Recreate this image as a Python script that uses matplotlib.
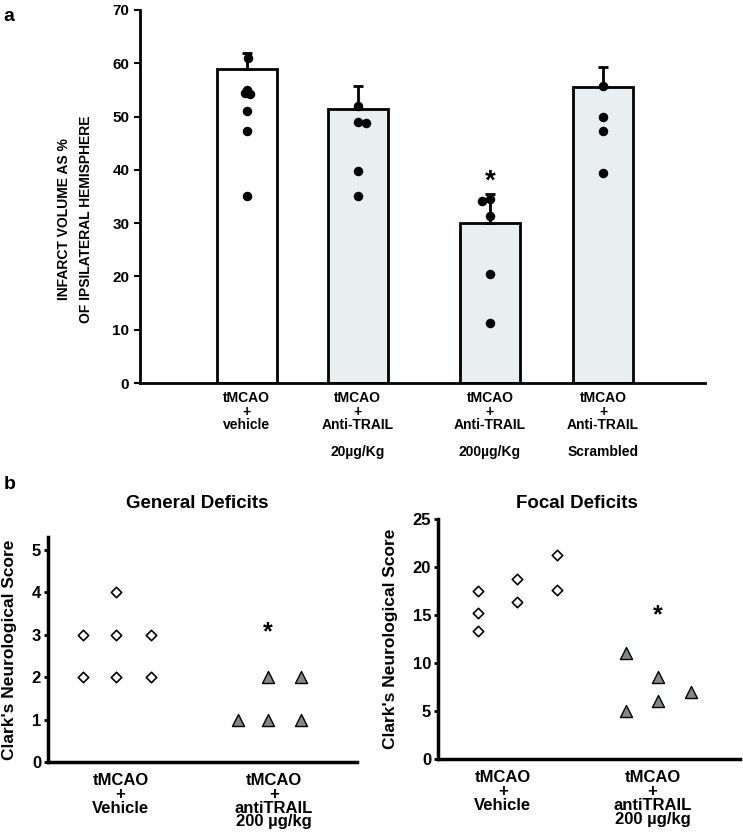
import matplotlib
matplotlib.use("Agg")
import matplotlib.pyplot as plt

plt.rcParams['font.family'] = ['Liberation Sans', 'DejaVu Sans']
plt.rcParams['font.weight'] = 'bold'
plt.rcParams['axes.labelweight'] = 'bold'
plt.rcParams['axes.titleweight'] = 'bold'

# panel a: infarct volume
bar_labels = ["tMCAO\n+\nvehicle",
              "tMCAO\n+\nAnti-TRAIL\n\n20\u00b5g/Kg",
              "tMCAO\n+\nAnti-TRAIL\n\n200\u00b5g/Kg",
              "tMCAO\n+\nAnti-TRAIL\n\nScrambled"]
bar_means = [59.0, 51.5, 30.1, 55.5]
bar_err = [3.0, 4.2, 5.4, 3.8]
bar_colors = ["white", "#e9eeee", "#e9eeee", "#e9eeee"]
# individual animals: (offset within bar, value)
dots = [
    [(0.02, 61.0), (-0.03, 54.5), (0.0, 55.0), (0.06, 54.3), (0.01, 51.0), (0.01, 47.3), (0.01, 35.0)],
    [(0.0, 52.0), (0.0, 49.0), (0.13, 48.8), (0.0, 39.7), (0.0, 35.0)],
    [(-0.14, 34.2), (0.0, 34.5), (0.0, 31.4), (0.0, 20.5), (0.0, 11.2)],
    [(0.0, 55.8), (0.0, 50.0), (0.0, 47.3), (0.0, 39.5)],
]

# panel b: Clark's scores, columns of points
gen_veh_x = [0.78, 0.78, 1.0, 1.0, 1.0, 1.23, 1.23]
gen_veh_y = [3, 2, 4, 3, 2, 3, 2]
gen_trail_x = [1.8, 2.0, 2.0, 2.22, 2.22]
gen_trail_y = [1, 2, 1, 2, 1]

foc_veh_x = [0.72, 0.72, 0.72, 1.0, 1.0, 1.28, 1.28]
foc_veh_y = [17.5, 15.2, 13.3, 18.7, 16.4, 21.2, 17.6]
foc_trail_x = [1.77, 1.77, 2.0, 2.0, 2.23]
foc_trail_y = [11.0, 5.0, 8.5, 6.0, 7.0]

b_labels = ["tMCAO\n+\nVehicle", "tMCAO\n+\nantiTRAIL\n200 \u00b5g/kg"]

fig = plt.figure(figsize=(7.43, 8.39), dpi=100)

# ---- panel a
ax = fig.add_axes([0.188, 0.5435, 0.761, 0.4446])
xs = [1.076, 1.882, 2.84, 3.66]
ax.bar(xs, bar_means, width=0.435, color=bar_colors, edgecolor="black", linewidth=2, zorder=2)
ax.errorbar(xs, bar_means, yerr=[[0] * 4, bar_err], fmt="none", ecolor="black",
            elinewidth=2, capsize=3.5, capthick=2, zorder=3)
for x, pts in zip(xs, dots):
    ax.scatter([x + o * 0.435 for o, v in pts], [v for o, v in pts], s=34, color="black",
               marker="o", zorder=4)
ax.text(xs[2], 37.8, "*", ha="center", va="center", fontsize=20)
ax.set_xlim(0.3, 4.4)
ax.set_ylim(0, 70)
ax.set_yticks(range(0, 71, 10))
ax.set_xticks(xs)
ax.set_xticklabels(bar_labels, fontsize=10, linespacing=0.95)
ax.tick_params(axis="x", length=0, pad=6)
ax.tick_params(axis="y", labelsize=11, width=1.5, length=4)
for s in ["top", "right"]:
    ax.spines[s].set_visible(False)
for s in ["left", "bottom"]:
    ax.spines[s].set_linewidth(2)
ax.set_ylabel("INFARCT VOLUME AS %\nOF IPSILATERAL HEMISPHERE", fontsize=10,
              linespacing=1.75)
ax.yaxis.set_label_coords(-0.082, 0.44)
fig.text(0.005, 0.99, "a", fontsize=14, va="top")
fig.text(0.005, 0.433, "b", fontsize=14, va="top")


def score_panel(rect, vx, vy, tx, ty, ylim, yticks, star_y, title, title_x, xlim, label_x, ylab_x):
    a = fig.add_axes(rect)
    a.scatter(vx, vy, marker="D", s=28, facecolor="white", edgecolor="black", linewidth=1.2, zorder=3)
    a.scatter(tx, ty, marker="^", s=75, facecolor="#7f8a86", edgecolor="black", linewidth=1, zorder=3)
    a.text(2.0, star_y, "*", ha="center", va="center", fontsize=18)
    a.set_xlim(*xlim)
    a.set_ylim(*ylim)
    a.set_yticks(yticks)
    a.set_xticks(label_x)
    a.set_xticklabels(b_labels, fontsize=12, linespacing=0.9)
    a.tick_params(axis="x", length=0, pad=8)
    a.tick_params(axis="y", labelsize=12, width=2, length=3, pad=2)
    for s in ["top", "right"]:
        a.spines[s].set_visible(False)
    for s in ["left", "bottom"]:
        a.spines[s].set_linewidth(2.5)
    a.set_ylabel("Clark's Neurological Score", fontsize=12.5)
    a.yaxis.set_label_coords(ylab_x, 0.5)
    fig.text(title_x, 1 - 504 / 839, title, fontsize=13.5, ha="center", va="center")
    return a


score_panel([0.0646, 0.0918, 0.416, 0.268], gen_veh_x, gen_veh_y, gen_trail_x, gen_trail_y,
            (0, 5.3), range(0, 6), 3.05, "General Deficits", 197 / 743, (0.553, 2.586),
            [1.03, 2.04], -0.10)
score_panel([0.5895, 0.0953, 0.4065, 0.2861], foc_veh_x, foc_veh_y, foc_trail_x, foc_trail_y,
            (0, 25), range(0, 26, 5), 15.0, "Focal Deficits", 577 / 743, (0.44, 2.58),
            [0.9, 1.96], -0.132)

fig.savefig("out.png", dpi=100)
